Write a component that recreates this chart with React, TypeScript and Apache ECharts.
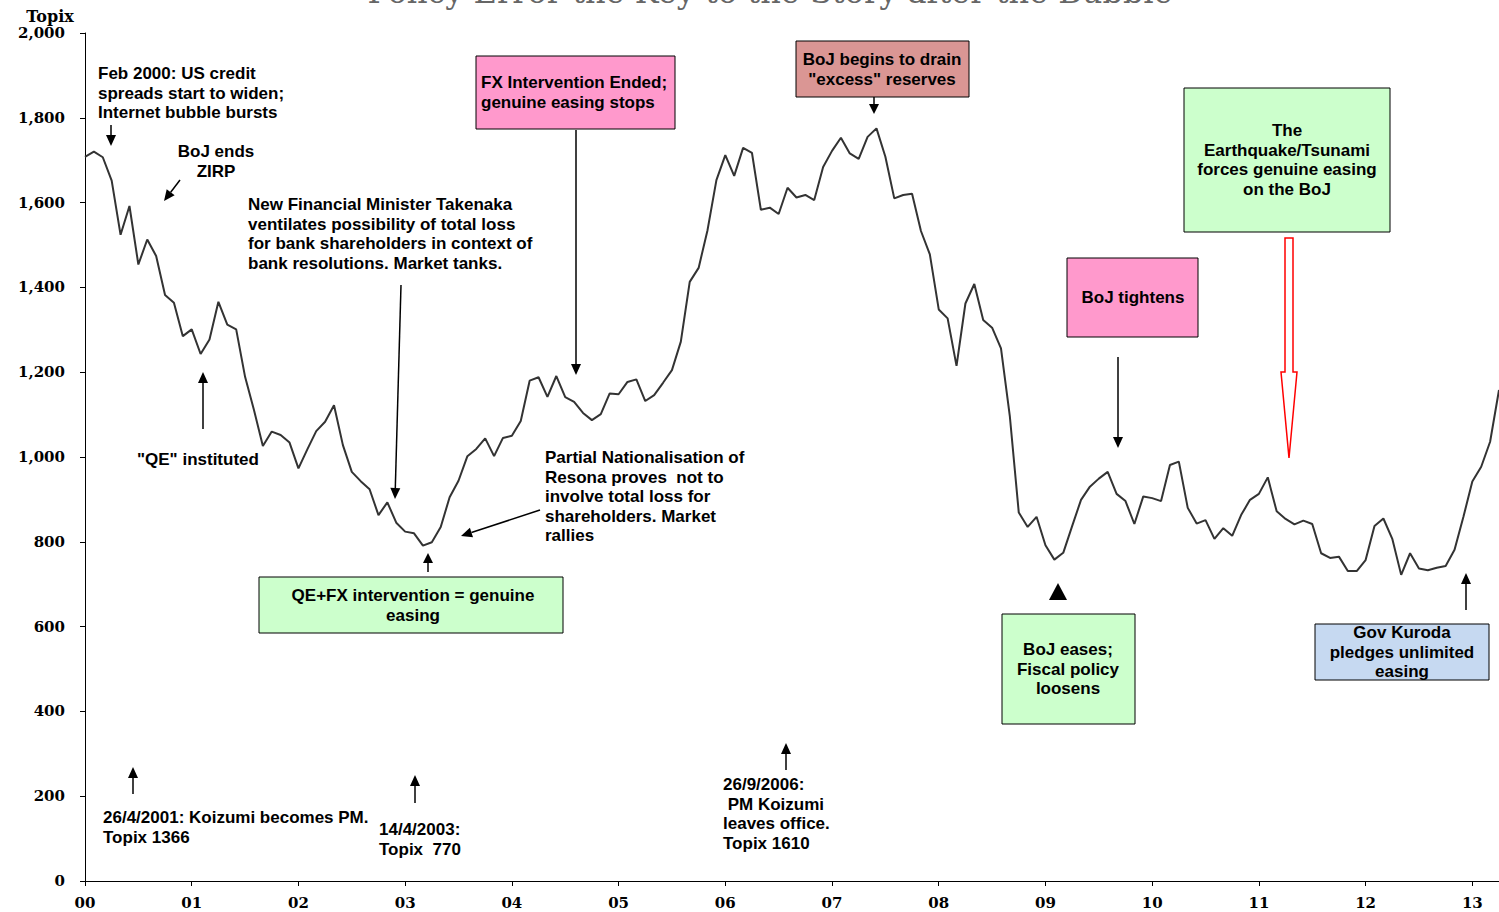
import React, { useEffect, useRef } from "react";
import * as echarts from "echarts";

// Month-end TOPIX, Jan 2000 – Apr 2013
const startYear = 2000;
const topix: number[] = [
  1708, 1720, 1707, 1652, 1524, 1592, 1454, 1513, 1474, 1382, 1364, 1285,
  1301, 1243, 1277, 1366, 1312, 1301, 1189, 1111, 1026, 1060, 1052, 1034,
  973, 1018, 1061, 1083, 1122, 1028, 965, 943, 924, 863, 893, 845,
  824, 820, 791, 799, 835, 905, 944, 1002, 1019, 1044, 1002, 1045,
  1050, 1085, 1180, 1188, 1142, 1191, 1141, 1130, 1104, 1087, 1101, 1150,
  1148, 1177, 1183, 1132, 1146, 1175, 1205, 1272, 1413, 1446, 1535, 1653,
  1712, 1663, 1729, 1717, 1583, 1588, 1573, 1635, 1612, 1618, 1606, 1684,
  1722, 1753, 1716, 1703, 1755, 1775, 1708, 1610, 1618, 1621, 1533, 1478,
  1348, 1327, 1215, 1362, 1408, 1323, 1305, 1256, 1095, 869, 835, 859,
  792, 758, 774, 837, 899, 930, 949, 965, 913, 896, 842, 907,
  903, 896, 981, 989, 880, 843, 851, 807, 832, 814, 863, 899,
  913, 952, 872, 854, 841, 850, 842, 773, 762, 765, 731, 731,
  757, 837, 855, 807, 722, 773, 737, 733, 739, 743, 781, 859,
  942, 977, 1036, 1158,
];
const months: string[] = topix.map((_, i) => {
  const y = startYear + Math.floor(i / 12);
  const m = (i % 12) + 1;
  return `${y}-${String(m).padStart(2, "0")}`;
});

const yTicks = { min: 0, max: 2000, step: 200 };

const TITLE = "Policy Error the Key to the Story after the Bubble";
const FONT = '"Liberation Sans", Arial, sans-serif';
const SERIF = '"DejaVu Serif", Georgia, serif';
const LH = 19.5;

const PINK = "#FF99CC";
const SALMON = "#DA9694";
const GREEN = "#CCFFCC";
const BLUE = "#C6D9F1";

function txt(text: string, x: number, y: number, align: "left" | "center" = "left") {
  return {
    type: "text",
    z: 10,
    style: {
      text,
      x,
      y,
      fill: "#000",
      font: `bold 17px ${FONT}`,
      textAlign: align,
      textVerticalAlign: "top",
      lineHeight: LH,
    },
  };
}

function box(x: number, y: number, w: number, h: number, fill: string) {
  return {
    type: "rect",
    z: 5,
    shape: { x, y, width: w, height: h },
    style: { fill, stroke: "#000", lineWidth: 1 },
  };
}

function arrow(x1: number, y1: number, x2: number, y2: number, head = 11, half = 5) {
  const dx = x2 - x1;
  const dy = y2 - y1;
  const len = Math.sqrt(dx * dx + dy * dy);
  const ux = dx / len;
  const uy = dy / len;
  const bx = x2 - ux * head;
  const by = y2 - uy * head;
  const px = -uy;
  const py = ux;
  return [
    {
      type: "line",
      z: 10,
      shape: { x1, y1, x2: bx, y2: by },
      style: { stroke: "#000", lineWidth: 1.5 },
    },
    {
      type: "polygon",
      z: 10,
      shape: {
        points: [
          [x2, y2],
          [bx + px * half, by + py * half],
          [bx - px * half, by - py * half],
        ],
      },
      style: { fill: "#000" },
    },
  ];
}

export default function App() {
  const ref = useRef<HTMLDivElement>(null);

  useEffect(() => {
    if (!ref.current) return;
    const chart = echarts.init(ref.current, undefined, { renderer: "svg" });

    const graphic: any[] = [
      {
        type: "text",
        style: {
          text: TITLE,
          x: 770,
          y: -8,
          fill: "#666",
          font: `32px ${SERIF}`,
          textAlign: "center",
          textVerticalAlign: "middle",
        },
      },
      {
        type: "text",
        style: {
          text: "Topix",
          x: 50,
          y: 16,
          fill: "#000",
          font: `bold 16px ${SERIF}`,
          textAlign: "center",
          textVerticalAlign: "middle",
        },
      },

      txt("Feb 2000: US credit\nspreads start to widen;\nInternet bubble bursts", 98, 64),
      ...arrow(111, 125, 111, 146),

      txt("BoJ ends\nZIRP", 216, 142, "center"),
      ...arrow(180, 180, 164, 201),

      txt(
        "New Financial Minister Takenaka\nventilates possibility of total loss\nfor bank shareholders in context of\nbank resolutions. Market tanks.",
        248,
        195
      ),
      ...arrow(401, 285, 395, 499),

      box(476, 56, 199, 73, PINK),
      txt("FX Intervention Ended;\ngenuine easing stops", 481, 73),
      ...arrow(576, 130, 576, 375),

      box(796, 41, 173, 56, SALMON),
      txt('BoJ begins to drain\n"excess" reserves', 882, 50, "center"),
      ...arrow(874, 97, 874, 114, 10, 5),

      box(1184, 88, 206, 144, GREEN),
      txt("The\nEarthquake/Tsunami\nforces genuine easing\non the BoJ", 1287, 121, "center"),
      {
        type: "polygon",
        z: 10,
        shape: {
          points: [
            [1285, 238],
            [1293, 238],
            [1293, 372],
            [1297, 372],
            [1289, 458],
            [1281, 372],
            [1285, 372],
          ],
        },
        style: { fill: "#fff", stroke: "#FF0000", lineWidth: 1.5 },
      },

      box(1067, 258, 131, 79, PINK),
      txt("BoJ tightens", 1133, 288, "center"),
      ...arrow(1118, 357, 1118, 448),

      txt('"QE" instituted', 137, 450),
      ...arrow(203, 429, 203, 372),

      txt(
        "Partial Nationalisation of\nResona proves  not to\ninvolve total loss for\nshareholders. Market\nrallies",
        545,
        448
      ),
      ...arrow(540, 510, 461, 536),

      box(259, 577, 304, 56, GREEN),
      txt("QE+FX intervention = genuine\neasing", 413, 586, "center"),
      ...arrow(428, 572, 428, 553, 10, 5),

      box(1002, 614, 133, 110, GREEN),
      txt("BoJ eases;\nFiscal policy\nloosens", 1068, 640, "center"),
      {
        type: "polygon",
        z: 10,
        shape: {
          points: [
            [1049, 600],
            [1067, 600],
            [1058, 583],
          ],
        },
        style: { fill: "#000" },
      },

      box(1315, 624, 174, 56, BLUE),
      txt("Gov Kuroda\npledges unlimited\neasing", 1402, 623, "center"),
      ...arrow(1466, 610, 1466, 573),

      txt("26/4/2001: Koizumi becomes PM.\nTopix 1366", 103, 808),
      ...arrow(133, 794, 133, 767),

      txt("14/4/2003:\nTopix  770", 379, 820),
      ...arrow(415, 803, 415, 775),

      txt("26/9/2006:\n PM Koizumi\nleaves office.\nTopix 1610", 723, 775),
      ...arrow(786, 770, 786, 743),
    ];

    chart.setOption({
      animation: false,
      backgroundColor: "#fff",
      grid: { left: 85, right: 0, top: 33, bottom: 31, containLabel: false },
      xAxis: {
        type: "category",
        data: months,
        boundaryGap: false,
        axisLine: { lineStyle: { color: "#000", width: 1 } },
        axisTick: { show: true, interval: 11, length: 5, lineStyle: { color: "#000" } },
        axisLabel: {
          interval: 11,
          margin: 14,
          color: "#000",
          fontFamily: SERIF,
          fontWeight: "bold",
          fontSize: 15,
          formatter: (v: string) => v.slice(2, 4),
        },
        splitLine: { show: false },
      },
      yAxis: {
        type: "value",
        min: yTicks.min,
        max: yTicks.max,
        interval: yTicks.step,
        axisLine: { show: true, lineStyle: { color: "#000", width: 1 } },
        axisTick: { show: true, length: 5, lineStyle: { color: "#000" } },
        axisLabel: {
          margin: 20,
          color: "#000",
          fontFamily: SERIF,
          fontWeight: "bold",
          fontSize: 15,
          formatter: (v: number) => v.toLocaleString("en-US"),
        },
        splitLine: { show: false },
      },
      series: [
        {
          type: "line",
          data: topix,
          symbol: "none",
          lineStyle: { color: "#333", width: 2 },
          z: 3,
        },
      ],
      graphic,
    });

    return () => chart.dispose();
  }, []);

  return (
    <div
      ref={ref}
      style={{ position: "absolute", left: 0, top: 0, width: 1499, height: 912 }}
    />
  );
}
